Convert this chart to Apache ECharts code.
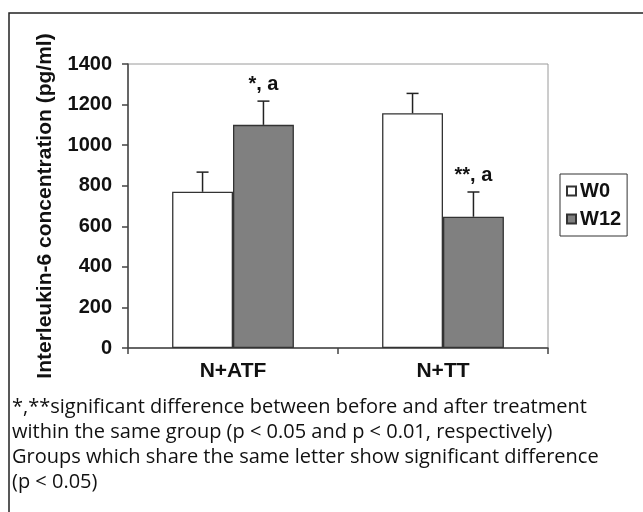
<!DOCTYPE html>
<html>
<head>
<meta charset="utf-8">
<script src="https://cdn.jsdelivr.net/npm/echarts@6.0.0/dist/echarts.min.js"></script>
<style>
html,body{margin:0;padding:0;background:#fff;}
#chart{width:643px;height:512px;}
</style>
</head>
<body>
<div id="chart"></div>
<script>
// ---- data ----
var categories = ['N+ATF', 'N+TT'];
var seriesNames = ['W0', 'W12'];
var w0Values = [770, 1157];
var w0Errors = [97, 98];
var w12Values = [1100, 647];
var w12Errors = [117, 122];
var w0Notes = ['', ''];
var w12Notes = ['*, a', '**, a'];
var yTicks = [0, 200, 400, 600, 800, 1000, 1200, 1400];
var yTitle = 'Interleukin-6 concentration (pg/ml)';
var footnoteLines = [
  '*,**significant difference between before and after treatment',
  'within the same group (p < 0.05 and p < 0.01, respectively)',
  'Groups which share the same letter show significant difference',
  '(p < 0.05)'
];

var BOLD = '"Liberation Sans", Arial, Helvetica, sans-serif';
var chart = echarts.init(document.getElementById('chart'), null, {renderer: 'canvas'});

function errData(vals, errs, notes) {
  return vals.map(function (v, i) { return [i, v, errs[i], notes[i]]; });
}

function errRender(side) {
  return function (params, api) {
    var ci = api.value(0), v = api.value(1), e = api.value(2);
    var note = api.value(3);
    var base = api.coord([ci, v]);
    var top = api.coord([ci, v + e]);
    var band = api.size([1, 0])[0];
    var bw = band * (1 - 0.42) / 2;
    var x = base[0] + side * bw / 2;
    var cap = 6;
    var children = [
      {type: 'line', shape: {x1: x, y1: base[1], x2: x, y2: top[1]}, style: {stroke: '#222', lineWidth: 1.5}},
      {type: 'line', shape: {x1: x - cap, y1: top[1], x2: x + cap, y2: top[1]}, style: {stroke: '#222', lineWidth: 1.5}}
    ];
    if (note) {
      children.push({type: 'text', x: x, y: top[1] - 7, style: {
        text: note, fill: '#111', font: 'bold 20px ' + BOLD, align: 'center', verticalAlign: 'bottom'
      }});
    }
    return {type: 'group', children: children};
  };
}

var option = {
  backgroundColor: '#fff',
  animation: false,
  grid: {left: 128, right: 95, top: 64, bottom: 164, show: true, borderColor: '#9a9a9a', borderWidth: 1, outerBoundsMode: 'none'},
  legend: {
    data: seriesNames,
    orient: 'vertical',
    left: 560, top: 174,
    itemWidth: 9, itemHeight: 9, itemGap: 8,
    padding: [7, 6, 7, 6],
    borderColor: '#333', borderWidth: 1,
    icon: 'rect',
    textStyle: {fontFamily: BOLD, fontWeight: 'bold', fontSize: 20, color: '#111', padding: [0, 0, 0, -1]}
  },
  xAxis: {
    type: 'category', data: categories,
    axisLine: {lineStyle: {color: '#444', width: 1.5}},
    axisTick: {show: true, length: 6, lineStyle: {color: '#444', width: 1.5}},
    axisLabel: {margin: 13, fontFamily: BOLD, fontWeight: 'bold', fontSize: 21, color: '#111'}
  },
  yAxis: {
    type: 'value', min: yTicks[0], max: yTicks[yTicks.length - 1], interval: 200,
    name: yTitle, nameLocation: 'middle', nameGap: 72,
    nameTextStyle: {fontFamily: BOLD, fontWeight: 'bold', fontSize: 21, color: '#111'},
    axisLine: {show: true, lineStyle: {color: '#444', width: 1.5}},
    axisTick: {show: true, length: 6, lineStyle: {color: '#444', width: 1.5}},
    splitLine: {show: false},
    axisLabel: {margin: 16, fontFamily: BOLD, fontWeight: 'bold', fontSize: 20, color: '#111',
      formatter: function (v) { return String(v); }}
  },
  series: [
    {name: seriesNames[0], type: 'bar', data: w0Values, barGap: '0%', barCategoryGap: '42%',
     itemStyle: {color: '#ffffff', borderColor: '#333', borderWidth: 1.3}},
    {name: seriesNames[1], type: 'bar', data: w12Values, barGap: '0%', barCategoryGap: '42%',
     itemStyle: {color: '#808080', borderColor: '#333', borderWidth: 1.3}},
    {type: 'custom', renderItem: errRender(-1), data: errData(w0Values, w0Errors, w0Notes), z: 5, silent: true},
    {type: 'custom', renderItem: errRender(1), data: errData(w12Values, w12Errors, w12Notes), z: 5, silent: true}
  ],
  graphic: [
    {type: 'rect', shape: {x: 9, y: 13, width: 700, height: 600}, style: {fill: 'none', stroke: '#222', lineWidth: 1.5}, z: -1},
    {type: 'text', left: 12, top: 395, style: {
      text: footnoteLines.join('\n'), font: '20px "Open Sans", sans-serif', fill: '#111', lineHeight: 25
    }}
  ]
};
chart.setOption(option);
</script>
</body>
</html>
